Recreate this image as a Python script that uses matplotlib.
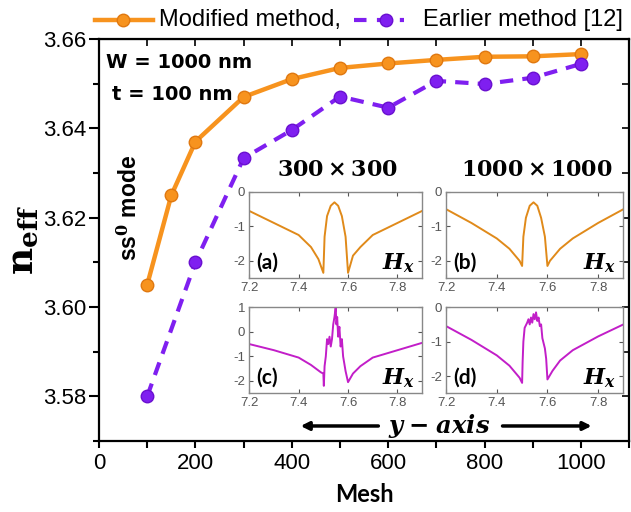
import matplotlib
matplotlib.use("Agg")
from matplotlib import pyplot as plt
from matplotlib.lines import Line2D

plt.rcParams['font.family'] = ['Liberation Sans', 'DejaVu Sans']
plt.rcParams['mathtext.fontset'] = 'dejavuserif'
plt.rcParams['axes.unicode_minus'] = False

# main data
mesh_mod = [100, 150, 200, 300, 400, 500, 600, 700, 800, 900, 1000]
neff_mod = [3.605, 3.625, 3.637, 3.647, 3.651, 3.6535, 3.6545, 3.6553, 3.656, 3.6561, 3.6566]
mesh_old = [100, 200, 300, 400, 500, 600, 700, 800, 900, 1000]
neff_old = [3.580, 3.610, 3.6333, 3.6396, 3.6471, 3.6446, 3.6506, 3.6499, 3.6513, 3.6544]

# inset field profiles (log scale)
ya = [7.2, 7.3, 7.4, 7.45, 7.48, 7.5, 7.505, 7.515, 7.53, 7.545, 7.56, 7.575, 7.59, 7.6, 7.62, 7.65, 7.7, 7.8, 7.9]
ha = [-0.55, -0.9, -1.25, -1.6, -1.95, -2.35, -1.3, -0.7, -0.4, -0.3, -0.4, -0.7, -1.3, -2.35, -1.85, -1.6, -1.25, -0.9, -0.55]
yb = [7.2, 7.3, 7.4, 7.45, 7.49, 7.5, 7.505, 7.515, 7.53, 7.545, 7.56, 7.575, 7.59, 7.6, 7.61, 7.65, 7.7, 7.8, 7.9]
hb = [-0.5, -0.9, -1.35, -1.65, -2.0, -2.15, -1.3, -0.75, -0.4, -0.3, -0.4, -0.75, -1.3, -2.15, -2.0, -1.65, -1.35, -0.9, -0.5]
yc = [7.2, 7.3, 7.4, 7.45, 7.49, 7.5, 7.502, 7.505, 7.51, 7.515, 7.52, 7.525, 7.53, 7.535, 7.54, 7.545,
      7.55, 7.553, 7.556, 7.56, 7.565, 7.57, 7.575, 7.58, 7.585, 7.59, 7.6, 7.62, 7.65, 7.7, 7.8, 7.9]
hc = [-0.5, -0.75, -1.05, -1.35, -1.65, -1.7, -2.2, -1.4, -1.0, -0.3, -0.5, -0.2, -0.6, -0.3, 0.3, 0.6,
      1.0, 0.3, 0.6, -0.2, 0.2, -0.6, -0.3, -1.0, -1.3, -1.6, -2.05, -1.7, -1.4, -1.05, -0.75, -0.45]
yd = [7.2, 7.3, 7.4, 7.45, 7.49, 7.5, 7.502, 7.505, 7.51, 7.52, 7.525, 7.53, 7.535, 7.54, 7.545, 7.55,
      7.555, 7.56, 7.565, 7.57, 7.575, 7.58, 7.59, 7.595, 7.6, 7.62, 7.65, 7.7, 7.8, 7.9]
hd = [-0.55, -0.95, -1.4, -1.7, -2.05, -2.2, -1.6, -1.0, -0.6, -0.45, -0.35, -0.5, -0.3, -0.45, -0.2, -0.35,
      -0.15, -0.4, -0.3, -0.55, -0.5, -0.9, -1.2, -1.5, -2.1, -1.85, -1.55, -1.25, -0.85, -0.5]

orange = '#F7931E'
purple = '#7F1FF0'
c_ab = '#E08A1A'
c_cd = '#C21EC8'

fig = plt.figure(figsize=(6.31, 5.12), dpi=100)
ax = fig.add_axes([0.157, 0.139, 0.84, 0.785])

ax.plot(mesh_mod, neff_mod, '-o', color=orange, lw=3.2, ms=9,
        mfc=orange, mec='#E07810', mew=1)
ax.plot(mesh_old, neff_old, '--o', color=purple, lw=3, ms=9, dashes=(3.2, 2.2),
        mfc=purple, mec='#6A10D0', mew=1)

ax.set_xlim(0, 1100)
ax.set_ylim(3.57, 3.66)
ax.set_xticks(range(0, 1001, 200))
ax.set_xticks(range(100, 1101, 200), minor=True)
ax.set_yticks([3.58, 3.60, 3.62, 3.64, 3.66])
ax.set_yticks([3.57, 3.59, 3.61, 3.63, 3.65], minor=True)
ax.set_yticklabels(['3.58', '3.60', '3.62', '3.64', '3.66'])
ax.tick_params(labelsize=16, width=1.5, direction='out')
ax.tick_params(axis='y', length=7, pad=2)
ax.tick_params(axis='y', which='minor', length=4, width=1.5)
ax.tick_params(axis='x', which='both', length=5, width=1.5, pad=4)
for s in ax.spines.values():
    s.set_linewidth(1.6)

# top/right ticks pointing in
axt = ax.secondary_xaxis('top')
axt.set_xticks(list(range(0, 1001, 200)) + list(range(100, 1101, 200)))
axt.tick_params(direction='in', length=5, width=1.2, labeltop=False)
axr = ax.secondary_yaxis('right')
axr.set_yticks([3.58, 3.59, 3.60, 3.61, 3.62, 3.63, 3.64, 3.65, 3.66])
axr.tick_params(direction='in', length=5, width=1.2, labelright=False)

ax.set_xlabel('Mesh', fontsize=17, fontweight='bold', family='Lato', labelpad=6)
ax.set_ylabel(r'$\mathbf{n_{eff}}$', fontsize=27, labelpad=2)

ax.text(0.013, 0.928, 'W = 1000 nm', transform=ax.transAxes, fontsize=14,
        fontweight='bold', family='DejaVu Sans', va='baseline')
ax.text(0.025, 0.848, 't = 100 nm', transform=ax.transAxes, fontsize=14,
        fontweight='bold', family='DejaVu Sans', va='baseline')
ax.text(0.058, 0.58, r'ss$^{\mathbf{0}}$ mode', transform=ax.transAxes, fontsize=16.5,
        fontweight='bold', rotation=90, ha='center', va='center')

# legend, placed by hand in figure coordinates
ly = 0.961
fig.add_artist(Line2D([0.151, 0.243], [ly, ly], color=orange, lw=3.2, transform=fig.transFigure))
fig.add_artist(Line2D([0.195], [ly], color=orange, marker='o', ms=9, mec='#E07810',
                      transform=fig.transFigure))
fig.text(0.252, ly, 'Modified method,', fontsize=17, va='center', ha='left')
fig.add_artist(Line2D([0.561, 0.641], [ly, ly], color=purple, lw=3, dashes=(3, 2.5),
                      transform=fig.transFigure))
fig.add_artist(Line2D([0.612], [ly], color=purple, marker='o', ms=9, mec='#6A10D0',
                      transform=fig.transFigure))
fig.text(0.670, ly, 'Earlier method [12]', fontsize=17, va='center', ha='left')

# insets
insets = [
    ([0.395, 0.457, 0.274, 0.168], ya, ha, c_ab, (-2.5, 0), [0, -1, -2], '(a)'),
    ([0.707, 0.457, 0.281, 0.168], yb, hb, c_ab, (-2.5, 0), [0, -1, -2], '(b)'),
    ([0.395, 0.232, 0.274, 0.168], yc, hc, c_cd, (-2.5, 1), [1, 0, -1, -2], '(c)'),
    ([0.707, 0.232, 0.281, 0.168], yd, hd, c_cd, (-2.5, 0), [0, -1, -2], '(d)'),
]
for rect, xs, hs, col, ylim, yt, lab in insets:
    ai = fig.add_axes(rect)
    ai.plot(xs, hs, color=col, lw=1.4)
    ai.set_xlim(7.2, 7.9)
    ai.set_ylim(*ylim)
    ai.set_xticks([7.2, 7.4, 7.6, 7.8])
    ai.set_yticks(yt)
    ai.tick_params(direction='in', labelsize=9.5, colors='#555555', length=3,
                   top=True, right=True, pad=3)
    for s in ai.spines.values():
        s.set_color('#888888')
        s.set_linewidth(1.0)
    ai.text(0.04, 0.06, lab, transform=ai.transAxes, fontsize=15,
            fontweight='bold', family='Lato', va='bottom')
    ai.text(0.96, 0.04, r'$\mathbfit{H}_{\mathbfit{x}}$', transform=ai.transAxes, fontsize=16,
            ha='right', va='bottom')

fig.text(0.534, 0.667, r'$\mathbf{300\times300}$', fontsize=16, ha='center', va='center')
fig.text(0.851, 0.667, r'$\mathbf{1000\times1000}$', fontsize=16, ha='center', va='center')
fig.text(0.696, 0.168, r'$\mathbfit{y}\;\mathbf{-}\;\mathbfit{axis}$', fontsize=17.5,
         ha='center', va='center')
ax.annotate('', xy=(0.472, 0.168), xytext=(0.604, 0.168), xycoords='figure fraction',
            arrowprops=dict(arrowstyle='-|>', lw=2.5, color='black', mutation_scale=12))
ax.annotate('', xy=(0.942, 0.168), xytext=(0.792, 0.168), xycoords='figure fraction',
            arrowprops=dict(arrowstyle='-|>', lw=2.5, color='black', mutation_scale=12))

fig.savefig('out.png', dpi=100)
